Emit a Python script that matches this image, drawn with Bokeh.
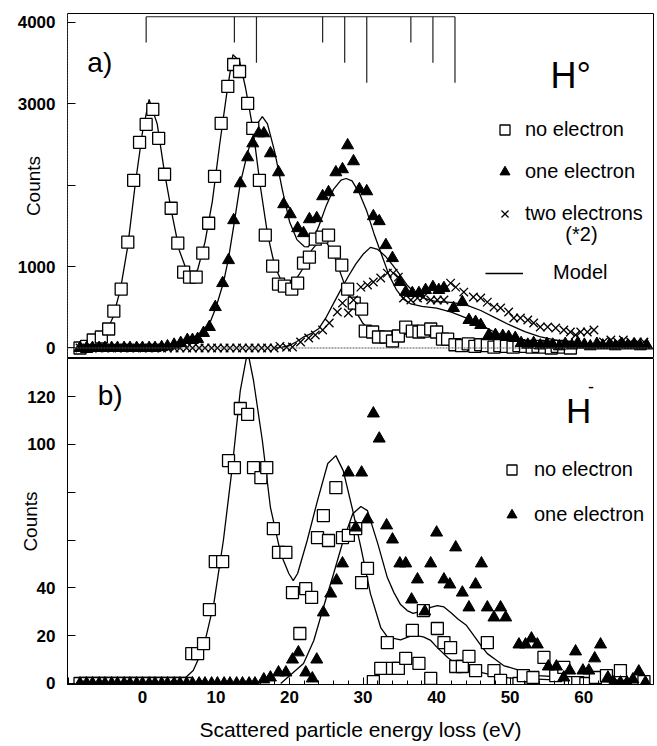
from bokeh.plotting import figure
from bokeh.layouts import column
from bokeh.models import (Range1d, SingleIntervalTicker, Label, Legend, LegendItem, Span)
from bokeh.embed import file_html
from bokeh.resources import INLINE

FONT = "Liberation Sans"

# ---------------- panel a) H0 ----------------
a0_x = [-8.5, -7.6, -6.7, -5.6, -4.6, -3.9, -2.9, -2.0, -1.2, -0.4,
        0.5, 1.4, 2.2, 3.0, 3.9, 4.8, 5.6, 6.4, 7.3, 8.2,
        9.0, 9.8, 10.7, 11.6, 12.4, 13.2, 14.3, 15.0, 15.9, 16.7,
        17.7, 18.5, 19.3, 20.3, 21.1, 21.9, 22.7, 23.5, 24.4, 25.3,
        26.1, 27.1, 27.9, 28.8, 29.8, 30.3, 31.3, 32.1, 33.1, 34.0,
        34.8, 35.8, 36.7, 37.6, 38.2, 39.2, 40.0, 40.8, 41.5, 42.5,
        43.4, 44.3, 45.2, 46.0, 46.9, 47.8, 48.6, 49.5, 50.4, 51.2,
        52.1, 53.0, 53.8, 54.7, 55.6, 56.4, 57.3, 58.2]
a0_y = [0, 20, 98, 135, 233, 453, 723, 1299, 2058, 2524,
        2744, 2928, 2573, 2132, 1715, 1286, 931, 870, 870, 1164,
        1531, 2107, 2756, 3210, 3479, 3393, 3001, 2695, 2058, 1384,
        1005, 784, 760, 723, 796, 1041, 1115, 1335, 1360, 1384,
        1176, 1017, 723, 551, 478, 208, 196, 135, 135, 86,
        147, 257, 208, 196, 208, 233, 196, 110, 110, 40,
        30, 50, 20, 40, 30, 10, 30, 20, 10, 30,
        20, 10, 20, 10, 0, 20, 10, 0]

a1_x = [-8.5, -7.6, -6.8, -5.9, -5.1, -4.2, -3.4, -2.5, -1.7, -0.8,
        0.0, 0.9, 1.7, 2.6, 3.4, 4.3, 5.2, 6.1, 6.8, 7.5,
        8.3, 9.1, 9.9, 10.9, 11.7, 12.4, 13.3, 14.3, 15.0, 15.8,
        16.5, 17.4, 18.5, 19.2, 20.1, 21.1, 21.9, 22.7, 23.7, 24.5,
        25.3, 26.3, 27.2, 27.9, 28.7, 29.5, 30.5, 31.4, 32.2, 33.1,
        34.0, 35.0, 35.8, 36.7, 37.6, 38.5, 39.5, 40.3, 41.0, 42.3,
        43.5, 44.4, 45.3, 46.0, 47.1, 48.0, 49.0, 49.8, 50.7, 51.5,
        52.4, 53.2, 54.1, 55.0, 55.8, 56.7, 57.5, 58.4, 59.2, 60.1,
        60.9, 61.8, 62.6, 63.5, 64.3, 65.2, 66.0, 66.9, 67.7, 68.6]
a1_y = [0, 0, 0, 0, 0, 0, 0, 0, 0, 0,
        0, 0, 0, 10, 20, 40, 61, 98, 98, 110,
        184, 257, 502, 796, 1078, 1568, 2021, 2340, 2511, 2634,
        2634, 2389, 2156, 1764, 1641, 1470, 1409, 1580, 1593, 1862,
        1911, 2156, 2193, 2487, 2291, 1948, 1923, 1617, 1556, 1262,
        1103, 809, 686, 674, 674, 711, 747, 711, 735, 490,
        563, 343, 319, 282, 159, 159, 147, 135, 122, 60,
        40, 60, 30, 50, 40, 20, 50, 30, 60, 40,
        20, 50, 30, 40, 20, 50, 30, 40, 20, 30]

a2_x = [-8.5, -7.6, -6.8, -5.9, -5.1, -4.2, -3.4, -2.5, -1.7, -0.8,
        0.0, 0.9, 1.7, 2.6, 3.4, 4.3, 5.1, 6.0, 6.8, 7.7,
        8.5, 9.4, 10.2, 11.1, 11.9, 12.8, 13.6, 14.5, 15.3, 16.2,
        17.0, 17.9, 18.7, 19.6, 20.4, 21.5, 22.6, 23.5, 24.5, 25.4,
        26.5, 27.2, 28.0, 28.7, 29.7, 30.6, 31.4, 32.4, 33.3, 34.1,
        34.8, 35.5, 36.5, 37.4, 38.2, 39.2, 40.1, 41.0, 41.9, 42.6,
        43.7, 45.0, 46.0, 46.9, 47.8, 48.7, 49.8, 50.5, 51.4, 52.4,
        53.2, 54.1, 55.1, 56.2, 57.3, 58.2, 58.9, 59.6, 60.5, 61.4,
        62.7, 63.7, 64.6, 65.4, 66.4, 67.3, 68.2]
a2_y = [0, 0, 0, 0, 0, 0, 0, 0, 0, 0,
        0, 0, 0, 0, 0, 0, 0, 0, 0, 0,
        0, 0, 0, 0, 0, 0, 0, 0, 0, 0,
        0, 0, 20, 10, 12, 74, 123, 159, 220, 306,
        441, 551, 429, 588, 747, 772, 809, 858, 919, 919,
        870, 613, 588, 613, 625, 588, 588, 588, 796, 747,
        686, 625, 613, 563, 502, 490, 441, 368, 368, 343,
        306, 257, 257, 245, 220, 196, 159, 196, 196, 220,
        74, 98, 74, 98, 74, 74, 74]

m0a_x = [-9, -8, -7, -6, -5, -4, -3, -2, -1, 0, 0.9, 2, 3, 4, 5, 6, 6.7, 7.5, 8.5, 9.5,
         10.5, 11.5, 12.3, 13.2, 14, 15, 16, 17, 18, 19, 19.8, 21, 22, 23, 24.2, 25, 26,
         27, 28, 29, 30, 31, 32, 34, 36, 38, 40, 42, 45, 50, 55, 60, 65, 69]
m0a_y = [0, 20, 60, 110, 180, 380, 720, 1250, 2000, 2650, 3050, 2750, 2150, 1650, 1200,
         950, 880, 960, 1300, 1800, 2500, 3150, 3600, 3520, 3200, 2700, 2000, 1400, 1000,
         800, 750, 860, 1000, 1200, 1330, 1300, 1150, 900, 650, 450, 300, 220, 180, 160,
         170, 160, 130, 90, 50, 20, 10, 5, 3, 2]

m1a_x = [2, 4, 5, 6, 7, 8, 9, 10, 11, 11.7, 12.5, 13.3, 14.3, 15, 15.6, 16.3, 17, 18, 19,
         20, 21, 22, 22.5, 23, 24, 25, 26, 27, 27.7, 28.5, 29.5, 30.5, 31.5, 32.5, 33.5,
         34.5, 35.5, 36.5, 38, 40, 42, 44, 46, 48, 50, 52, 55, 60, 65, 69]
m1a_y = [0, 20, 50, 90, 120, 170, 270, 500, 800, 1100, 1550, 2020, 2400, 2600, 2750, 2840,
         2750, 2400, 1950, 1550, 1330, 1245, 1240, 1290, 1500, 1750, 1950, 2060, 2080, 2050,
         1900, 1680, 1400, 1150, 900, 720, 600, 540, 510, 490, 440, 370, 280, 190, 130, 90,
         50, 20, 10, 5]

m2a_x = [18, 19, 20, 21, 22, 23, 24, 25, 26, 27, 28, 29, 30, 31, 32, 33, 34, 35, 36, 37,
         38, 39, 40, 42, 44, 46, 48, 50, 52, 54, 57, 60, 64, 69]
m2a_y = [0, 10, 30, 80, 140, 180, 240, 380, 550, 720, 880, 1030, 1150, 1235, 1210, 1130,
         1020, 900, 770, 680, 620, 590, 570, 560, 530, 460, 370, 280, 200, 140, 80, 45, 20, 8]

comb_x = [0.5, 12.5, 15.5, 24.5, 27.5, 30.5, 36.5, 39.5, 42.5]
comb_bottom = [3750, 3750, 3500, 3750, 3500, 3255, 3750, 3500, 3255]
comb_top = 4065

# ---------------- panel b) H- ----------------
b0_x = [-8.5, -7.6, -6.8, -5.9, -5.1, -4.2, -3.4, -2.5, -1.7, -0.8,
        0.0, 0.9, 1.7, 2.6, 3.4, 4.3, 5.1, 6.0, 6.7, 7.5,
        8.3, 9.1, 9.9, 10.9, 11.7, 12.5, 13.3, 14.3, 15.1, 16.1,
        16.9, 17.8, 18.5, 19.5, 20.4, 21.4, 22.2, 23.0, 23.8, 24.6,
        25.3, 26.3, 27.2, 28.0, 29.0, 29.8, 30.6, 31.4, 32.4, 33.3,
        34.0, 34.8, 35.8, 36.7, 37.6, 38.2, 39.2, 40.1, 41.0, 41.9,
        42.6, 43.5, 44.4, 45.3, 46.9, 47.8, 48.7, 51.2, 51.8, 53.1,
        54.6, 56.2, 57.3, 58.2, 59.2, 60.3, 61.6, 63.1, 65.0, 68.2]
b0_y = [0, 0, 0, 0, 0, 0, 0, 0, 0, 0,
        0, 0, 0, 0, 0, 0, 0, 0, 12.5, 12.5,
        16.7, 30.9, 51, 51, 93.2, 90.3, 115, 112.5, 90.3, 86.1,
        90.3, 64.8, 54.8, 54.8, 38, 20.9, 39.7, 36, 61, 70.2,
        59.8, 81.9, 61, 61.9, 64.8, 42.2, 48.1, 0.8, 6.3, 17.1,
        6.3, 6.3, 10.5, 22.2, 8.4, 30.5, 2.1, 23, 17.1, 15,
        7.1, 7.1, 11.3, 5.4, 17.1, 5.4, 1.3, 0, 3.3, 2.5,
        10.9, 3.3, 6.7, 0.4, 0.4, 0, 2.5, 3.3, 5.4, 0.8]

b1_x = [-8.5, -7.6, -6.8, -5.9, -5.1, -4.2, -3.4, -2.5, -1.7, -0.8,
        0.0, 0.9, 1.7, 2.6, 3.4, 4.3, 5.1, 6.0, 6.8, 7.7,
        8.5, 9.4, 10.2, 11.1, 11.9, 12.8, 13.6, 14.5, 15.3, 16.5,
        17.4, 18.5, 19.5, 20.4, 21.2, 22.2, 23.1, 23.7, 24.6, 25.6,
        26.4, 27.2, 28.0, 29.0, 29.8, 30.6, 31.4, 32.2, 33.2, 34.0,
        35.0, 35.8, 36.6, 37.4, 38.4, 39.2, 40.0, 41.0, 41.8, 42.6,
        43.5, 44.4, 45.3, 46.1, 46.9, 47.8, 48.7, 49.4, 51.2, 52.1,
        52.9, 53.7, 55.2, 56.3, 57.3, 58.1, 58.9, 59.9, 60.7, 61.5,
        62.3, 63.3, 64.1, 65.0, 65.9, 66.7, 67.5, 68.4]
b1_y = [0, 0, 0, 0, 0, 0, 0, 0, 0, 0,
        0, 0, 0, 0, 0, 0, 0, 0, 0, 0,
        0, 0, 0, 0, 0, 0, 0, 0, 0, 1.7,
        2.5, 4.6, 4.6, 10, 13, 4.6, 2.1, 10, 29.7, 37.6,
        43.1, 50.2, 88.2, 65.2, 88.2, 68.6, 112.9, 102.4, 66.1, 60.2,
        50.2, 50.2, 35.1, 43.5, 30.1, 50.2, 63.1, 43.5, 41.4, 56.9,
        38, 31.8, 41.4, 50.2, 31.8, 27.6, 31.8, 27.6, 16.3, 16.3,
        18.8, 16.3, 7.1, 7.1, 2.5, 5.4, 13.4, 5.4, 5.4, 10.5,
        16.3, 2.5, 0.4, 0.4, 0.4, 1.7, 5, 0.4]

m0b_x = [-9, 4.5, 5.5, 6.9, 8.3, 9.7, 11, 12.2, 13.3, 14.3, 15.1, 16.3, 17.4, 18.8, 19.9,
         20.5, 21.1, 22.4, 23.8, 25.2, 26.3, 27.3, 28.6, 29.7, 31.0, 32.4, 33.3, 35.1, 36.8,
         38.2, 39.2, 40.1, 41.5, 43.3, 45.6, 49, 52, 56, 60, 65, 69]
m0b_y = [0, 0, 1.5, 5.4, 15, 33.4, 59.8, 90.3, 122.5, 139, 126.7, 101.6, 73.6, 54.3, 46,
         43, 46, 59.8, 76.5, 92, 95.3, 89, 72.3, 56.9, 37.6, 23.4, 19.5, 18.2, 20.2,
         19.5, 18, 15, 10.9, 6.7, 5, 2.5, 2, 1.5, 1, 0.5, 0.3]

m1b_x = [18.8, 20.5, 21.9, 23.3, 24.6, 26, 27.3, 28.6, 29.7, 30.6, 32, 33.3, 34.2, 35.1, 36,
         36.8, 38.2, 39.2, 40.1, 41, 42, 42.9, 44, 44.6, 46, 46.9, 48, 49.1, 51.4, 53.7,
         58.2, 62, 66, 69]
m1b_y = [0, 4.6, 8.4, 18, 31.8, 46, 59.8, 71, 74, 72.3, 58.5, 44.3, 38, 33, 30.5,
         29.3, 30.5, 31.8, 32.6, 32, 29.5, 27, 24.5, 22, 16, 12.5, 10, 7.5, 5.4, 3.3,
         2.5, 1.8, 1.2, 1]

X_RANGE = (-10.2, 69.5)
SQ = dict(marker="square", size=12, fill_color="white", line_color="black", line_width=1.3)
TR = dict(marker="triangle", size=12, fill_color="black", line_color="black", line_width=1)
XX = dict(marker="x", size=12, line_color="black", line_width=1.3)
LN = dict(line_color="black", line_width=1.3)
TXT = dict(text_font=FONT, text_color="black")


def style_y(p, interval, hidden, label_standoff):
    ax = p.yaxis[0]
    ax.ticker = SingleIntervalTicker(interval=interval, num_minor_ticks=0)
    ax.major_label_overrides = {h: "" for h in hidden}
    ax.major_tick_in = 8
    ax.major_tick_out = 0
    ax.minor_tick_in = 0
    ax.minor_tick_out = 0
    ax.major_label_standoff = 12
    ax.major_label_text_font = FONT
    ax.major_label_text_font_size = "17px"
    ax.major_label_text_font_style = "bold"
    ax.major_label_text_color = "black"
    ax.axis_label = "Counts"
    ax.axis_label_standoff = label_standoff
    ax.axis_label_text_font = FONT
    ax.axis_label_text_font_size = "19px"
    ax.axis_label_text_font_style = "normal"
    ax.axis_label_text_color = "black"


def legend(items, loc, gw, gh, spacing, standoff):
    return Legend(items=items, location=loc, orientation="vertical", glyph_width=gw,
                  glyph_height=gh, label_height=gh, spacing=spacing, label_standoff=standoff,
                  padding=0, margin=0, border_line_color=None, background_fill_alpha=0,
                  label_text_font=FONT, label_text_font_size="20px", label_text_color="black")


# ----- top figure -----
pa = figure(width=655, height=358, x_range=Range1d(*X_RANGE), y_range=Range1d(-129, 4105),
            output_backend="svg", toolbar_location=None, x_axis_location=None,
            min_border_left=67, min_border_right=2, min_border_top=13, min_border_bottom=0)
pa.grid.visible = False
pa.outline_line_color = "black"
style_y(pa, 1000, [2000], -29)
pa.yaxis.axis_line_dash = "2 1"
pa.yaxis.axis_line_color = "#333333"
pa.add_layout(Span(location=0, dimension="width", line_color="#555555", line_width=1, line_dash="2 1"))

pa.segment(x0=comb_x, y0=[comb_top] * len(comb_x), x1=comb_x, y1=comb_bottom, line_color="#222222", line_width=1.2)
pa.segment(x0=[comb_x[0]], y0=[comb_top], x1=[comb_x[-1]], y1=[comb_top], line_color="#222222", line_width=1.2)

rm0 = pa.line(m0a_x, m0a_y, **LN)
pa.line(m1a_x, m1a_y, **LN)
pa.line(m2a_x, m2a_y, **LN)
r0 = pa.scatter(a0_x, a0_y, **SQ)
r1 = pa.scatter(a1_x, a1_y, **TR)
r2 = pa.scatter(a2_x, a2_y, **XX)

pa.add_layout(legend([LegendItem(label="no electron", renderers=[r0]),
                      LegendItem(label="one electron", renderers=[r1]),
                      LegendItem(label="two electrons", renderers=[r2])],
                     (425, 132), 25, 25, 17, 8))
pa.add_layout(legend([LegendItem(label="Model", renderers=[rm0])], (418, 74), 38, 20, 0, 30))

pa.add_layout(Label(x=59.7, y=1405, text="(*2)", text_font_size="20px",
                    text_align="center", text_baseline="middle", **TXT))
pa.add_layout(Label(x=55.5, y=3344, text="H°", text_font_size="36px",
                    text_align="left", text_baseline="alphabetic", **TXT))
pa.add_layout(Label(x=-7.5, y=3503, text="a)", text_font_size="28px",
                    text_align="left", text_baseline="alphabetic", **TXT))

# ----- bottom figure -----
pb = figure(width=655, height=387, x_range=Range1d(*X_RANGE), y_range=Range1d(-0.42, 135.9),
            output_backend="svg", toolbar_location=None,
            min_border_left=67, min_border_right=2, min_border_top=0, min_border_bottom=61)
pb.grid.visible = False
pb.outline_line_color = "black"
style_y(pb, 20, [60, 80], -17)
pb.xaxis.ticker = SingleIntervalTicker(interval=10, num_minor_ticks=5)
pb.xaxis.major_label_overrides = {-10: ""}
pb.xaxis.major_tick_in = 7
pb.xaxis.major_tick_out = 0
pb.xaxis.minor_tick_in = 4
pb.xaxis.minor_tick_out = 0
pb.xaxis.major_label_standoff = 6
pb.xaxis.major_label_text_font = FONT
pb.xaxis.major_label_text_font_size = "17px"
pb.xaxis.major_label_text_font_style = "bold"
pb.xaxis.major_label_text_color = "black"
pb.xaxis.axis_label = "Scattered particle energy loss (eV)"
pb.xaxis.axis_label_standoff = 12
pb.xaxis.axis_label_text_font = FONT
pb.xaxis.axis_label_text_font_size = "21px"
pb.xaxis.axis_label_text_font_style = "normal"
pb.xaxis.axis_label_text_color = "black"

pb.line(m0b_x, m0b_y, **LN)
pb.line(m1b_x, m1b_y, **LN)
s0 = pb.scatter(b0_x, b0_y, **SQ)
s1 = pb.scatter(b1_x, b1_y, **TR)

pb.add_layout(legend([LegendItem(label="no electron", renderers=[s0]),
                      LegendItem(label="one electron", renderers=[s1])],
                     (432, 157), 25, 25, 20, 10))

pb.add_layout(Label(x=57.6, y=114.1, text="H", text_font_size="35px",
                    text_align="left", text_baseline="alphabetic", **TXT))
pb.add_layout(Label(x=60.6, y=124, text="-", text_font_size="18px",
                    text_align="left", text_baseline="middle", **TXT))
pb.add_layout(Label(x=-6.1, y=120.4, text="b)", text_font_size="28px",
                    text_align="left", text_baseline="alphabetic", **TXT))

layout = column(pa, pb)
open("out.html", "w").write(file_html(layout, INLINE))
